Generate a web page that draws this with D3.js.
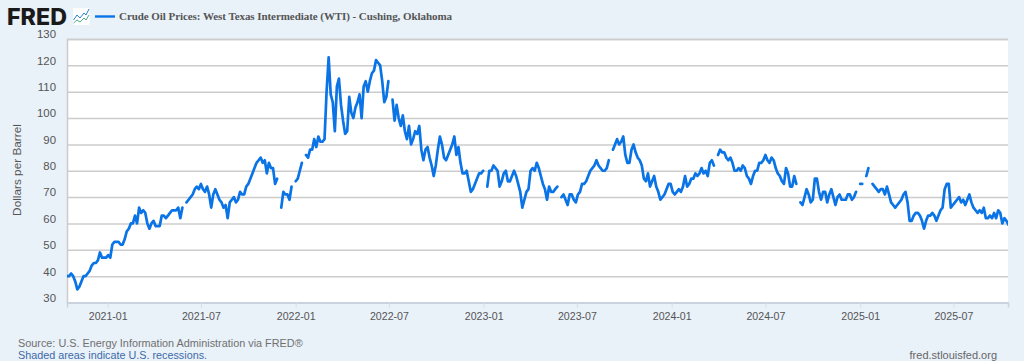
<!DOCTYPE html>
<html><head><meta charset="utf-8">
<script src="https://cdn.jsdelivr.net/npm/d3@7/dist/d3.min.js"></script>
<style>
html,body{margin:0;padding:0;background:#e9f1f9;overflow:hidden}
svg{display:block}
.ax text{font:10.6px "Liberation Sans",Arial,sans-serif;fill:#555}
.ay text{font:11.4px "Liberation Sans",Arial,sans-serif;fill:#555}
</style></head><body><div id="c"></div>
<script>
const title = "Crude Oil Prices: West Texas Intermediate (WTI) - Cushing, Oklahoma";
const yLabel = "Dollars per Barrel";
const sourceText = "Source: U.S. Energy Information Administration via FRED®";
const noteText = "Shaded areas indicate U.S. recessions.";
const siteText = "fred.stlouisfed.org";
const yTicks = [30,40,50,60,70,80,90,100,110,120,130];
const xTickLabels = ["2021-01","2021-07","2022-01","2022-07","2023-01","2023-07","2024-01","2024-07","2025-01","2025-07"];
const firstDate = "2020-10-14", lastDate = "2025-10-15", stepDays = 4;
// observed price every stepDays days, one row per 60 days; null = missing observations
const prices = [
40,40,41,40,38,35,36,38,40,40,41,42,44,45,45,
46,49,47,47,47,48,47,52,53,53,53,52,52,54,57,
58,60,60,63,60,66,64,65,64,60,58,60,61,59,59,
59,63,63,62,63,64,65,65,65,66,62,66,null,68,69,
70,71,73,74,73,75,73,72,74,71,66,71,73,71,69,
68,66,67,62,68,69,70,68,69,72,71,71,74,75,77,
79,81,83,84,85,83,84,79,83,81,81,75,77,null,66,
72,71,71,69,74,null,76,77,80,83,null,86,85,88,88,
92,89,93,91,91,92,110,123,109,106,95,112,115,105,99,
94,95,108,102,100,104,106,109,100,112,114,110,114,117,118,
122,121,120,114,106,108,114,null,107,99,105,100,97,101,95,
92,97,90,92,95,94,97,88,84,88,89,85,82,78,82,
88,93,90,85,84,86,88,90,93,86,89,83,79,79,80,
76,72,73,75,77,79,79,80,null,74,80,80,82,81,80,
74,76,79,80,76,76,78,80,78,75,72,66,69,72,73,
80,81,80,83,81,78,75,73,69,74,72,72,73,74,null,
70,71,69,67,71,71,69,68,71,72,75,75,76,78,80,
81,82,84,82,81,80,80,81,84,null,88,90,92,90,91,
93,86,83,83,88,90,87,85,84,82,77,76,79,74,76,
78,74,72,69,70,71,73,75,75,72,71,72,73,72,74,
78,74,75,77,77,79,78,79,81,79,80,78,83,84,82,
null,86,88,87,87,85,84,85,83,80,80,81,80,82,81,
78,77,75,78,80,80,83,83,84,86,84,83,85,84,81,
79,78,76,75,81,79,74,74,78,75,null,68,67,70,73,
71,68,69,77,77,72,69,72,72,68,71,73,70,67,70,
71,69,69,69,71,71,69,70,72,null,75,75,null,78,81,
null,75,74,73,72,73,73,71,74,71,68,67,66,67,68,
69,71,72,68,61,61,63,64,64,63,61,58,61,63,63,
64,63,61,63,65,66,73,75,75,66,67,68,69,70,68,
69,67,69,71,68,66,65,64,65,64,66,62,62,63,62,
64,62,65,64,60,62,61,59.5
];

const W = 1024, H = 361;
const m = {left:67, right:1008, top:39, bottom:302.5};
const parse = d3.utcParse("%Y-%m-%d");
const dates = prices.map((_,i)=>d3.utcDay.offset(parse(firstDate), i*stepDays));
const x = d3.scaleUtc().domain([parse(firstDate),parse(lastDate)]).range([m.left,m.right]);
const y = d3.scaleLinear().domain([30,130]).range([m.bottom,m.top]);
const svg = d3.select("#c").append("svg").attr("width",W).attr("height",H);

svg.append("rect").attr("x",m.left).attr("y",m.top).attr("width",m.right-m.left).attr("height",m.bottom-m.top).attr("fill","#fff");

// y axis with gridlines
const gy = svg.append("g").attr("class","ay").attr("transform",`translate(${m.left},0)`)
  .call(d3.axisLeft(y).tickValues(yTicks).tickSize(-(m.right-m.left)).tickPadding(11));
gy.select(".domain").attr("stroke","#ccc").attr("stroke-width",1.5);
gy.selectAll(".tick line").attr("stroke","#ccc").attr("stroke-width",1.5);
gy.selectAll(".tick text").attr("dy","-0.1em");

// x axis
const gx = svg.append("g").attr("class","ax").attr("transform",`translate(0,${m.bottom})`)
  .call(d3.axisBottom(x).tickValues(xTickLabels.map(s=>parse(s+"-01"))).tickFormat(d3.utcFormat("%Y-%m")).tickSize(5).tickPadding(1));
gx.select(".domain").attr("stroke","#c9d4e2").attr("stroke-width",1.5);
gx.selectAll(".tick line").attr("stroke","#cfe0f0");
gx.selectAll(".tick text").attr("dy","1.05em");

// series
svg.append("clipPath").attr("id","pc").append("rect").attr("x",m.left).attr("y",m.top-4).attr("width",m.right-m.left).attr("height",m.bottom-m.top+8);
const line = d3.line().defined(d=>d!==null).x((d,i)=>x(dates[i])).y(d=>y(d));
svg.append("path").datum(prices).attr("d",line).attr("clip-path","url(#pc)")
  .attr("fill","none").attr("stroke","#0a74e6").attr("stroke-width",2.7).attr("stroke-linejoin","round").attr("stroke-linecap","round");

// header
svg.append("text").attr("x",7).attr("y",24.5).text("FRED")
  .attr("font-family","Inter,'Liberation Sans',sans-serif").attr("font-weight",800).attr("font-size",22.5).attr("fill","#1a1a1a")
  .attr("textLength",60).attr("lengthAdjust","spacingAndGlyphs");
const icon = svg.append("g").attr("transform","translate(73,8)");
icon.append("rect").attr("width",16.5).attr("height",17).attr("rx",1).attr("fill","#fff");
icon.append("path").attr("d","M0.5 12L4 7L7 10L11 5L13 7L16 1").attr("fill","none").attr("stroke","#2a7fd8").attr("stroke-width",1);
icon.append("path").attr("d","M0.5 15L4 12L7 14L11 10L13 12L16 7").attr("fill","none").attr("stroke","#4fa98a").attr("stroke-width",1);
svg.append("line").attr("x1",95).attr("x2",115).attr("y1",16.5).attr("y2",16.5).attr("stroke","#0a74e6").attr("stroke-width",2.4);
svg.append("text").attr("x",119).attr("y",20).text(title)
  .attr("font-family","'Liberation Serif',serif").attr("font-weight",700).attr("font-size",11).attr("fill","#555")
  .attr("textLength",333).attr("lengthAdjust","spacing");

// y label
svg.append("text").attr("transform","translate(21,170) rotate(-90)").attr("text-anchor","middle").text(yLabel)
  .attr("font-family","'Liberation Sans',sans-serif").attr("font-size",11.8).attr("fill","#555");

// footer
const ft = (t,xp,yp,c,fs,a)=>svg.append("text").attr("x",xp).attr("y",yp).text(t).attr("text-anchor",a||"start")
  .attr("font-family","'Liberation Sans',sans-serif").attr("font-size",fs).attr("fill",c);
ft(sourceText,18,347,"#707070",10.85);
ft(noteText,18,358.5,"#3d6aa8",10.8);
ft(siteText,997,358.5,"#666",11,"end");
</script></body></html>
